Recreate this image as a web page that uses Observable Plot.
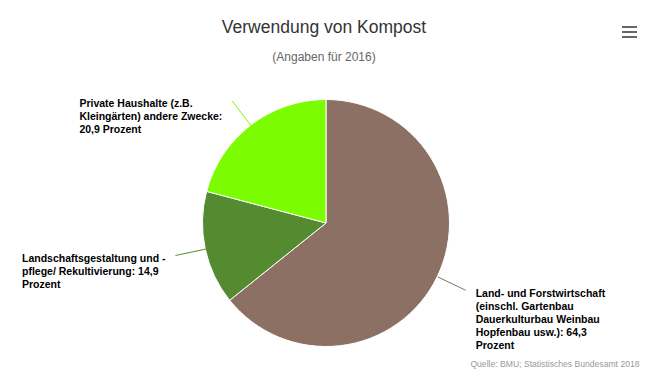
<!DOCTYPE html>
<html><head><meta charset="utf-8">
<script src="https://cdn.jsdelivr.net/npm/d3@7"></script>
<script src="https://cdn.jsdelivr.net/npm/@observablehq/plot@0.6"></script>
<style>
body{margin:0;background:#fff;}
#wrap{position:relative;width:648px;height:385px;overflow:hidden;font-family:"Liberation Sans",Arial,sans-serif;}
#title{position:absolute;left:0;top:16px;width:648px;text-align:center;font-size:17.5px;line-height:22px;color:#333;}
#subtitle{position:absolute;left:0;top:50px;width:648px;text-align:center;font-size:12px;line-height:14px;color:#666;}
#menu{position:absolute;left:622px;top:26px;width:15px;}
#menu div{height:2px;background:#666;margin-bottom:3px;}
#chart{position:absolute;left:0;top:75px;}
</style></head><body>
<div id="wrap">
  <div id="title">Verwendung von Kompost</div>
  <div id="subtitle">(Angaben für 2016)</div>
  <div id="menu"><div></div><div></div><div></div></div>
  <div id="chart"></div>
</div>
<script>
// ---- data ----
const categories = [
  "Land- und Forstwirtschaft (einschl. Gartenbau Dauerkulturbau Weinbau Hopfenbau usw.)",
  "Landschaftsgestaltung und - pflege/ Rekultivierung",
  "Private Haushalte (z.B. Kleingärten) andere Zwecke"
];
const values = [64.3, 14.9, 20.9];
const valueLabels = ["64,3", "14,9", "20,9"];
const labelLines = [
  ["Land- und Forstwirtschaft", "(einschl. Gartenbau", "Dauerkulturbau Weinbau", "Hopfenbau usw.): 64,3", "Prozent"],
  ["Landschaftsgestaltung und -", "pflege/ Rekultivierung: 14,9", "Prozent"],
  ["Private Haushalte (z.B.", "Kleingärten) andere Zwecke:", "20,9 Prozent"]
];
const colors = ["#8c7063", "#548b30", "#7cfc00"];
const credit = "Quelle: BMU; Statistisches Bundesamt 2018";

// ---- layout ----
const W = 648, H = 310;
const R = 123.5;          // pixels per radius unit
const CX = 326, CY = 148; // pie centre in svg pixels
const LABEL_FONT = 10.5;
const connectorDist = 1.25;
const gapPx = 10;

const pie = d3.pie().sort(null).value(d => d)(values);

const ctx = document.createElement("canvas").getContext("2d");
ctx.font = `bold ${LABEL_FONT}px "Liberation Sans"`;

const slices = pie.map((p, i) => {
  const mid = (p.startAngle + p.endAngle) / 2;
  const ux = Math.sin(mid), uy = Math.cos(mid);
  const right = ux >= 0;
  const blockW = d3.max(labelLines[i], s => ctx.measureText(s).width);
  const ox = ux * connectorDist, oy = uy * connectorDist;
  const lx = right ? ox + gapPx / R : ox - (gapPx + blockW) / R;
  return {i, name: categories[i], color: colors[i], ex: ux, ey: uy, ox, oy, lx, ly: oy,
          text: labelLines[i].join("\n")};
});

function pieMark(index, scales) {
  const cx = scales.x(0), cy = scales.y(0), r = scales.x(1) - scales.x(0);
  const arc = d3.arc().innerRadius(0).outerRadius(r);
  const g = d3.create("svg:g").attr("transform", `translate(${cx},${cy})`);
  g.selectAll("path").data(pie).join("path")
    .attr("d", arc)
    .attr("fill", (d, i) => colors[i])
    .attr("stroke", "#fff")
    .attr("stroke-width", 1)
    .attr("stroke-linejoin", "round");
  return g.node();
}

const chart = Plot.plot({
  width: W, height: H, margin: 0,
  style: {background: "transparent", overflow: "visible"},
  x: {domain: [-CX / R, (W - CX) / R], axis: null},
  y: {domain: [-(H - CY) / R, CY / R], axis: null},
  marks: [
    pieMark,
    Plot.link(slices, {x1: "ex", y1: "ey", x2: "ox", y2: "oy", stroke: d => d.color, strokeWidth: 1}),
    Plot.text(slices, {x: "lx", y: "ly", text: "text", textAnchor: "start", lineAnchor: "top",
      fontSize: LABEL_FONT, fontWeight: "bold", fill: "#000", lineHeight: 1.24, dy: -3,
      fontFamily: "Liberation Sans"}),
    Plot.text([credit], {frameAnchor: "bottom-right", text: d => d, textAnchor: "end",
      fontSize: 8.6, fill: "#999", dx: -9, dy: -19, fontFamily: "Liberation Sans"})
  ]
});
document.getElementById("chart").appendChild(chart);
</script>
</body></html>
